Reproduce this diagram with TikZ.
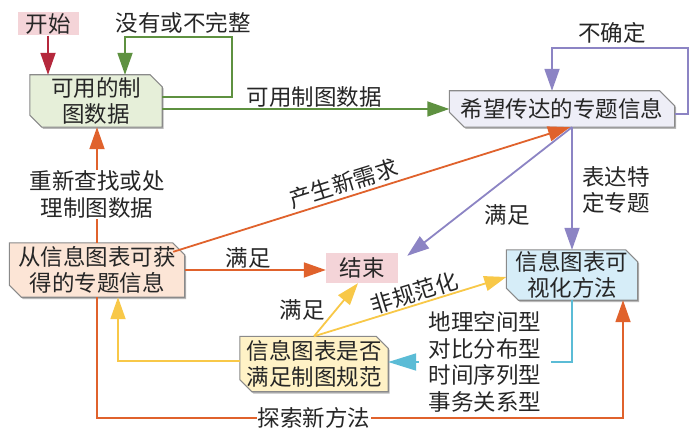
\documentclass[tikz,border=0pt]{standalone}
\usepackage{fontspec}
\setmainfont{Noto Sans CJK SC}
\usetikzlibrary{arrows.meta,calc}
\pgfdeclarelayer{background}
\pgfdeclarelayer{paper}
\pgfsetlayers{paper,background,main}
\definecolor{cRed}{HTML}{B5283C}
\definecolor{cGreen}{HTML}{5E9140}
\definecolor{cPurple}{HTML}{8C84C4}
\definecolor{cOrange}{HTML}{E0622C}
\definecolor{cYellow}{HTML}{F8C848}
\definecolor{cCyan}{HTML}{5BBCD6}
\definecolor{cBorder}{HTML}{8A8A8A}
\definecolor{cText}{HTML}{262626}
\definecolor{fPink}{HTML}{F4D4D8}
\definecolor{fGreen}{HTML}{E6EFD9}
\definecolor{fLav}{HTML}{EEEEF7}
\definecolor{fPeach}{HTML}{FCE5D6}
\definecolor{fBlue}{HTML}{D6EDF8}
\definecolor{fYellow}{HTML}{FFF2C6}
\newcommand\cutbox[3]{%
  \begin{pgfonlayer}{background}
    \fill[gray!55] ([shift={(1.5pt,-1.8pt)}]#1.north west) -- ([shift={(1.5pt-#3,-1.8pt)}]#1.north east) -- ([shift={(1.5pt,-1.8pt-#3)}]#1.north east) -- ([shift={(1.5pt,-1.8pt)}]#1.south east) -- ([shift={(1.5pt+#3,-1.8pt)}]#1.south west) -- ([shift={(1.5pt,-1.8pt+#3)}]#1.south west) -- cycle;
    \filldraw[fill=#2, draw=cBorder, line width=1.1pt] (#1.north west) -- ([xshift=-#3]#1.north east) -- ([yshift=-#3]#1.north east) -- (#1.south east) -- ([xshift=#3]#1.south west) -- ([yshift=#3]#1.south west) -- cycle;
  \end{pgfonlayer}}
\begin{document}
\begin{tikzpicture}[x=1pt,y=-1pt,
  font=\fontsize{22.5}{26.5}\selectfont, text=cText,
  box/.style={inner sep=0pt, align=center, text=cText},
  conn/.style={line width=1.8pt, line join=miter, -{Triangle[length=22pt,width=15pt]}},
  plain/.style={line width=1.8pt, line join=miter},
  lbl/.style={inner sep=1pt, text=cText}]
\useasboundingbox (0,0) rectangle (700,446);
\begin{pgfonlayer}{paper}
\fill[white] (0,0) rectangle (700,446);
\end{pgfonlayer}

% nodes
\node[box, minimum width=61pt, minimum height=23pt, fill=fPink] (start) at (48,24) {开始};
\node[box, minimum width=132pt, minimum height=52pt] (ky) at (96,101) {可用的制\\图数据};
\node[box, minimum width=225pt, minimum height=36pt] (xw) at (562,109) {希望传达的专题信息};
\node[box, minimum width=175pt, minimum height=54pt] (cx) at (97,270) {从信息图表可获\\得的专题信息};
\node[box, minimum width=72pt, minimum height=30pt, fill=fPink] (js) at (362,268) {结束};
\node[box, minimum width=131pt, minimum height=50pt] (vis) at (572,275) {信息图表可\\视化方法};
\node[box, minimum width=148pt, minimum height=55pt] (sf) at (314,364) {信息图表是否\\满足制图规范};
\node[align=left, inner ysep=1pt, inner xsep=10pt, text=cText] (types) at (485,362) {地理空间型\\对比分布型\\时间序列型\\事务关系型};

\cutbox{ky}{fGreen}{12pt}
\cutbox{xw}{fLav}{15pt}
\cutbox{cx}{fPeach}{12pt}
\cutbox{vis}{fBlue}{12pt}
\cutbox{sf}{fYellow}{12pt}

% labels
\node[lbl] (l1) at (183,23) {没有或不完整};
\node[lbl] (l2) at (612,33) {不确定};
\node[lbl, align=left] (l3) at (616,190) {表达特\\定专题};
\node[lbl] (l4) at (507,215) {满足};
\node[lbl] (l5) at (302,310) {满足};

% connectors
\draw[conn, cRed] (start.south) -- (start.south |- ky.north);

\coordinate (g1) at (232,37);
\draw[conn, cGreen] ([yshift=4pt]ky.east) -| (g1) -| ([xshift=29pt]ky.north);
\draw[conn, cGreen] (ky.east |- xw.west) -- (xw.west) node[pos=0.53, above, lbl] {可用制图数据};

\coordinate (p1) at (688,48);
\draw[conn, cPurple] ([yshift=-5pt]xw.east) -| (p1) -| ([xshift=-10pt]xw.north);
\draw[conn, cPurple] (xw.south -| vis.north) -- (vis.north);
\draw[conn, cPurple] (xw.south -| vis.north) -- ([shift={(9pt,-3pt)}]js.north east);

\draw[conn, cOrange] ([shift={(-11.5pt,-9pt)}]cx.north east) -- ([xshift=8pt]xw.south)
  node[pos=0.44, sloped, above, lbl, inner sep=3pt] {产生新需求};
\draw[conn, cOrange] (cx.north) -- (cx.north |- ky.south)
  node[pos=0.42, fill=white, lbl, align=center] {重新查找或处\\理制图数据};
\draw[conn, cOrange] (cx.east) -- (cx.east -| js.west) node[pos=0.45, above, lbl] {满足};
\coordinate (o2) at (623,418);
\draw[conn, cOrange] (cx.south) |- (o2) -- (o2 |- vis.south);
\node[fill=white, lbl] (l6) at (314,418) {探索新方法};

\draw[conn, cYellow] (sf.north) -- ([xshift=-4pt]js.south);
\draw[conn, cYellow] (sf.north) -- ([yshift=-2pt]vis.west)
  node[pos=0.54, sloped, above, lbl] {非规范化};
\draw[conn, cYellow] ([yshift=3pt]sf.west) -| ($(cx.south)+(21,0)$);

\draw[plain, cCyan] (vis.south) |- (types.east);
\draw[line width=1.8pt, cCyan, -{Triangle[length=28pt,width=17pt]}] (types.west) -- (types.west -| sf.east);
\end{tikzpicture}
\end{document}
